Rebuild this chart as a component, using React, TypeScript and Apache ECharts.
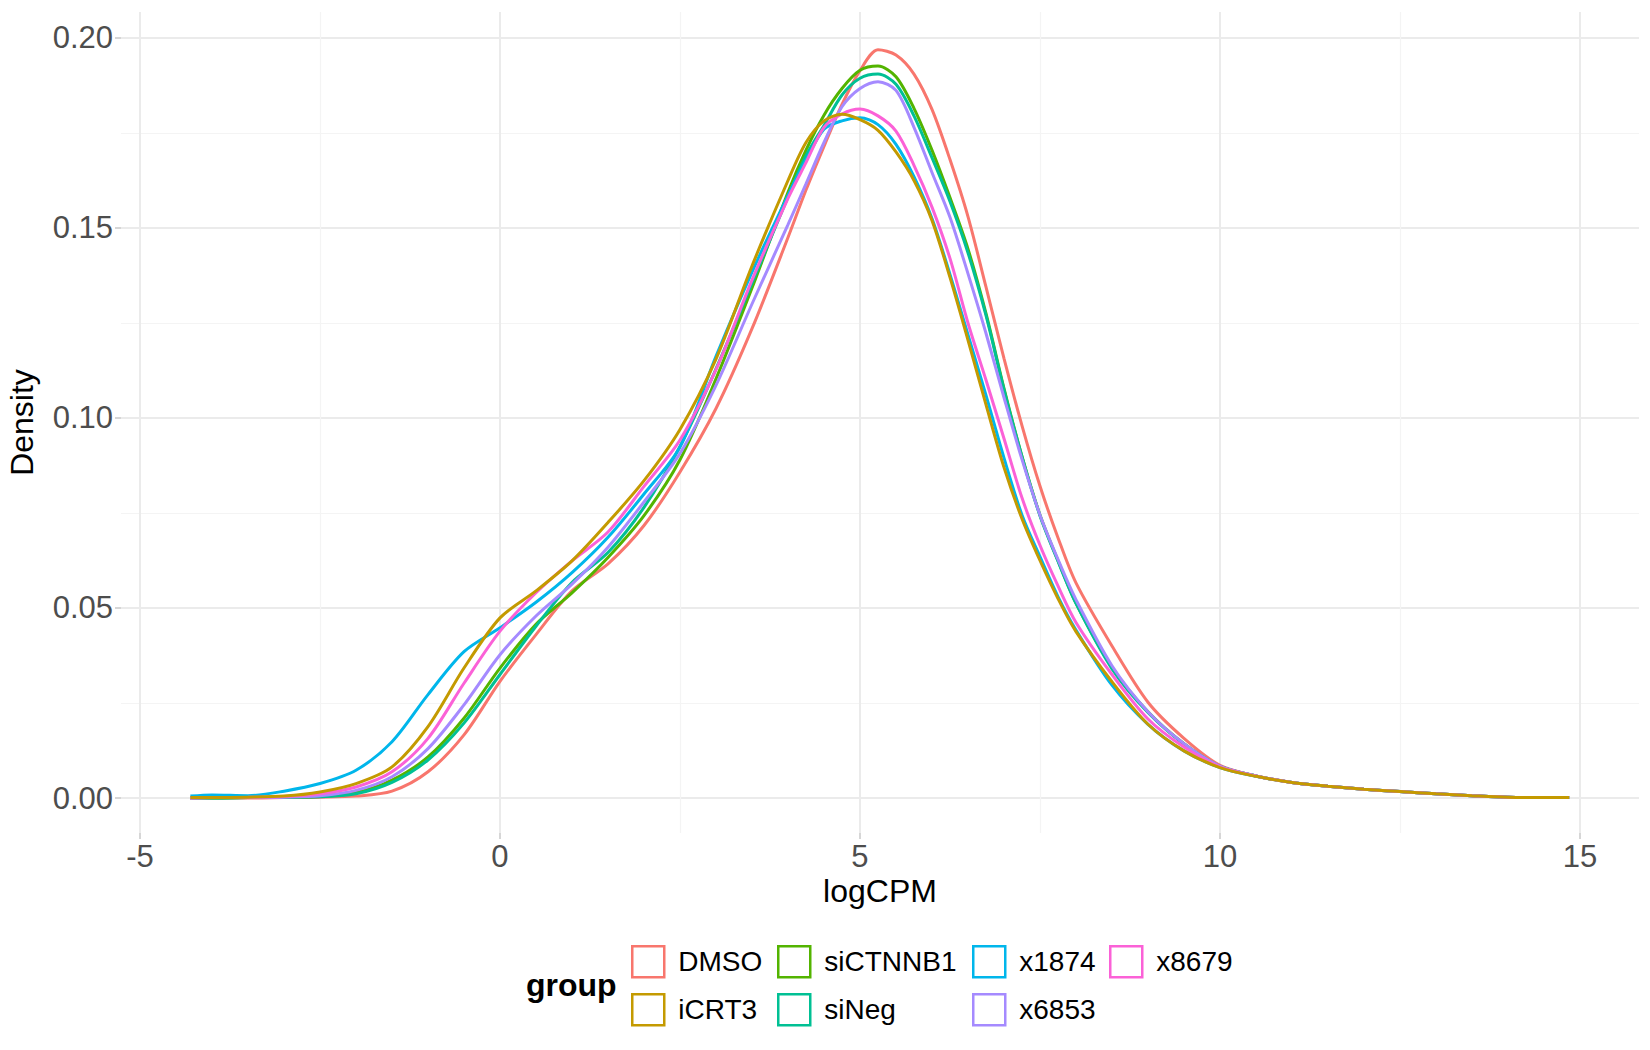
import React, { useEffect, useRef } from "react";
import * as echarts from "echarts";

// x positions (logCPM) where the densities were read
const LOGCPM = [
  -4.3, -4, -3.5, -3, -2.5, -2, -1.5, -1, -0.5, 0, 0.5, 1, 1.5, 2, 2.5, 3, 3.5, 4,
  4.25, 4.5, 4.75, 5, 5.25, 5.5, 5.75, 6, 6.25, 6.5, 6.75, 7, 7.25, 7.5, 7.75, 8,
  8.5, 9, 9.5, 10, 10.5, 11, 11.5, 12, 12.5, 13, 13.5, 14, 14.85,
];

const DMSO = [
  0, 0, 0, 0.0001, 0.0002, 0.0005, 0.0018, 0.0069, 0.0166, 0.0307, 0.043, 0.0545, 0.0616, 0.0717, 0.0858, 0.1025, 0.1235, 0.1475,
  0.16, 0.1715, 0.1825, 0.1914, 0.1969, 0.1955, 0.1905, 0.1812, 0.168, 0.153, 0.1345, 0.1157, 0.098, 0.0821, 0.0685, 0.0566,
  0.04, 0.0252, 0.0157, 0.0086, 0.0058, 0.0041, 0.0031, 0.0023, 0.0017, 0.0011, 0.0006, 0.0002, 0.0001,
];
const ICRT3 = [
  0.0001, 0.0001, 0.0002, 0.0005, 0.0016, 0.0038, 0.0082, 0.0188, 0.0342, 0.0474, 0.0545, 0.0624, 0.0725, 0.0835, 0.097, 0.1155, 0.14, 0.1625,
  0.1725, 0.1782, 0.1799, 0.1785, 0.1757, 0.17, 0.1625, 0.152, 0.137, 0.1205, 0.1035, 0.087, 0.0735, 0.0625, 0.0525, 0.0438,
  0.0306, 0.0194, 0.0124, 0.008, 0.0057, 0.0041, 0.0031, 0.0023, 0.0017, 0.0011, 0.0006, 0.0002, 0.0001,
];
const SICTNNB1 = [
  0, 0, 0.0001, 0.0002, 0.0004, 0.0014, 0.0047, 0.0108, 0.021, 0.0342, 0.0457, 0.054, 0.0633, 0.0743, 0.089, 0.1103, 0.1342, 0.1594,
  0.1705, 0.1797, 0.1867, 0.1915, 0.1926, 0.1898, 0.1815, 0.1705, 0.158, 0.1445, 0.1275, 0.1078, 0.0899, 0.0745, 0.0625, 0.0513,
  0.0344, 0.0227, 0.0143, 0.0083, 0.0058, 0.0041, 0.0031, 0.0023, 0.0017, 0.0011, 0.0006, 0.0002, 0.0001,
];
const SINEG = [
  0, 0, 0.0001, 0.0002, 0.0003, 0.0011, 0.0041, 0.01, 0.0197, 0.0325, 0.0452, 0.0567, 0.0646, 0.0765, 0.0925, 0.1129, 0.1354, 0.1582,
  0.169, 0.177, 0.185, 0.1894, 0.1905, 0.1878, 0.1795, 0.1685, 0.157, 0.1435, 0.127, 0.1075, 0.0898, 0.0743, 0.0623, 0.0512,
  0.034, 0.0225, 0.0142, 0.0083, 0.0058, 0.0041, 0.0031, 0.0023, 0.0017, 0.0011, 0.0006, 0.0002, 0.0001,
];
const X1874 = [
  0.0005, 0.0008, 0.0006, 0.0018, 0.0038, 0.0073, 0.0148, 0.0272, 0.0385, 0.0448, 0.0515, 0.0593, 0.0686, 0.08, 0.0924, 0.1162, 0.1384, 0.1586,
  0.1679, 0.176, 0.1782, 0.179, 0.1772, 0.172, 0.1635, 0.1525, 0.1378, 0.1219, 0.106, 0.0895, 0.0745, 0.0635, 0.053, 0.0442,
  0.0297, 0.0194, 0.0124, 0.008, 0.0057, 0.0041, 0.0031, 0.0023, 0.0017, 0.0011, 0.0006, 0.0002, 0.0001,
];
const X6853 = [
  0, 0.0001, 0.0001, 0.0002, 0.0006, 0.002, 0.0056, 0.013, 0.0245, 0.0377, 0.0479, 0.0563, 0.066, 0.0779, 0.0907, 0.1086, 0.13, 0.1509,
  0.1616, 0.1725, 0.1819, 0.1867, 0.1885, 0.1862, 0.1765, 0.1646, 0.1528, 0.138, 0.1223, 0.1054, 0.0891, 0.0745, 0.0628, 0.0522,
  0.0348, 0.0227, 0.0143, 0.0084, 0.0058, 0.0041, 0.0031, 0.0023, 0.0017, 0.0011, 0.0006, 0.0002, 0.0001,
];
const X8679 = [
  0, 0.0001, 0.0002, 0.0004, 0.0011, 0.0029, 0.0069, 0.0157, 0.0302, 0.0439, 0.054, 0.0624, 0.07, 0.082, 0.0942, 0.1127, 0.1363, 0.1578,
  0.1672, 0.1765, 0.18, 0.1813, 0.1795, 0.1755, 0.1665, 0.1555, 0.142, 0.125, 0.11, 0.0946, 0.079, 0.0665, 0.0558, 0.0462,
  0.0325, 0.0208, 0.0134, 0.0082, 0.0058, 0.0041, 0.0031, 0.0023, 0.0017, 0.0011, 0.0006, 0.0002, 0.0001,
];

const GROUPS = ["DMSO", "iCRT3", "siCTNNB1", "siNeg", "x1874", "x6853", "x8679"];
const VALUES = [DMSO, ICRT3, SICTNNB1, SINEG, X1874, X6853, X8679];
const COLORS = ["#F8766D", "#C49A00", "#53B400", "#00C094", "#00B6EB", "#A58AFF", "#FB61D7"];
// drawing order (last on top)
const DRAW_ORDER = [0, 2, 3, 4, 5, 6, 1];

const LEGEND_COLUMNS = [
  ["DMSO", "iCRT3"],
  ["siCTNNB1", "siNeg"],
  ["x1874", "x6853"],
  ["x8679"],
];
const LEGEND_LEFT = [631, 777, 972, 1109];

const X_MIN = -5.264;
const X_MAX = 15.82;
const Y_MIN = -0.00921;
const Y_MAX = 0.20684;
const X_MAJOR = [-5, 0, 5, 10, 15];
const X_MINOR = [-2.5, 2.5, 7.5, 12.5];
const Y_MAJOR = [0, 0.05, 0.1, 0.15, 0.2];
const Y_MINOR = [0.025, 0.075, 0.125, 0.175];

const FONT = "'Liberation Sans', Arial, Helvetica, sans-serif";

export default function App() {
  const ref = useRef<HTMLDivElement>(null);

  useEffect(() => {
    if (!ref.current) return;
    const chart = echarts.init(ref.current, undefined, { renderer: "svg" });

    const majorGrid = { show: true, lineStyle: { color: "#EBEBEB", width: 2 } };
    const minorGrid = { show: true, lineStyle: { color: "#F4F4F4", width: 1.2 } };
    const tickStyle = { color: "#CCCCCC", width: 1.6 };

    const option: any = {
      animation: false,
      backgroundColor: "#FFFFFF",
      textStyle: { fontFamily: FONT },
      grid: {
        left: 121,
        right: 11,
        top: 12,
        bottom: 217,
        containLabel: false,
        outerBoundsMode: "none",
      },
      xAxis: [
        {
          type: "value",
          min: X_MIN,
          max: X_MAX,
          position: "bottom",
          axisLine: { show: false, onZero: false },
          axisTick: { show: true, customValues: X_MAJOR, length: 6, lineStyle: tickStyle },
          axisLabel: {
            customValues: X_MAJOR,
            margin: 8,
            fontSize: 31,
            color: "#4D4D4D",
            fontFamily: FONT,
            formatter: (v: number) => String(v),
          },
          splitLine: majorGrid,
        },
        {
          type: "value",
          min: X_MIN,
          max: X_MAX,
          position: "bottom",
          axisLine: { show: false, onZero: false },
          axisTick: { show: false, customValues: X_MINOR },
          axisLabel: { show: false, customValues: X_MINOR },
          splitLine: minorGrid,
        },
      ],
      yAxis: [
        {
          type: "value",
          min: Y_MIN,
          max: Y_MAX,
          position: "left",
          axisLine: { show: false, onZero: false },
          axisTick: { show: true, customValues: Y_MAJOR, length: 6, lineStyle: tickStyle },
          axisLabel: {
            customValues: Y_MAJOR,
            margin: 8,
            fontSize: 31,
            color: "#4D4D4D",
            fontFamily: FONT,
            formatter: (v: number) => v.toFixed(2),
          },
          splitLine: majorGrid,
        },
        {
          type: "value",
          min: Y_MIN,
          max: Y_MAX,
          position: "left",
          axisLine: { show: false, onZero: false },
          axisTick: { show: false, customValues: Y_MINOR },
          axisLabel: { show: false, customValues: Y_MINOR },
          splitLine: minorGrid,
        },
      ],
      legend: LEGEND_COLUMNS.map((names, ci) => ({
        orient: "vertical",
        left: LEGEND_LEFT[ci],
        top: 945,
        padding: 0,
        itemWidth: 32,
        itemHeight: 31,
        itemGap: 14.5,
        icon: "rect",
        selectedMode: false,
        data: names.map((n) => ({
          name: n,
          icon: "rect",
          itemStyle: {
            color: "#FFFFFF",
            borderColor: COLORS[GROUPS.indexOf(n)],
            borderWidth: 2.5,
            opacity: 1,
          },
        })),
        textStyle: { fontSize: 28, color: "#000000", fontFamily: FONT, padding: [0, 0, 0, 9] },
      })),
      graphic: [
        {
          type: "text",
          x: 880,
          y: 890.5,
          style: {
            text: "logCPM",
            fontSize: 32,
            fill: "#000000",
            fontFamily: FONT,
            align: "center",
            verticalAlign: "middle",
          },
        },
        {
          type: "text",
          x: 21.5,
          y: 422.5,
          rotation: Math.PI / 2,
          style: {
            text: "Density",
            fontSize: 32,
            fill: "#000000",
            fontFamily: FONT,
            align: "center",
            verticalAlign: "middle",
          },
        },
        {
          type: "text",
          x: 526,
          y: 985,
          style: {
            text: "group",
            fontSize: 32,
            fontWeight: "bold",
            fill: "#000000",
            fontFamily: FONT,
            align: "left",
            verticalAlign: "middle",
          },
        },
      ],
      series: DRAW_ORDER.map((gi) => ({
        name: GROUPS[gi],
        type: "line",
        xAxisIndex: 0,
        yAxisIndex: 0,
        data: LOGCPM.map((x, i) => [x, VALUES[gi][i]]),
        showSymbol: false,
        symbol: "none",
        smooth: 0.3,
        color: COLORS[gi],
        itemStyle: { color: COLORS[gi] },
        lineStyle: { color: COLORS[gi], width: 3 },
        emphasis: { disabled: true },
      })),
    };

    chart.setOption(option);
    return () => chart.dispose();
  }, []);

  return (
    <div
      ref={ref}
      style={{ position: "absolute", left: 0, top: 0, width: 1650, height: 1050 }}
    />
  );
}
